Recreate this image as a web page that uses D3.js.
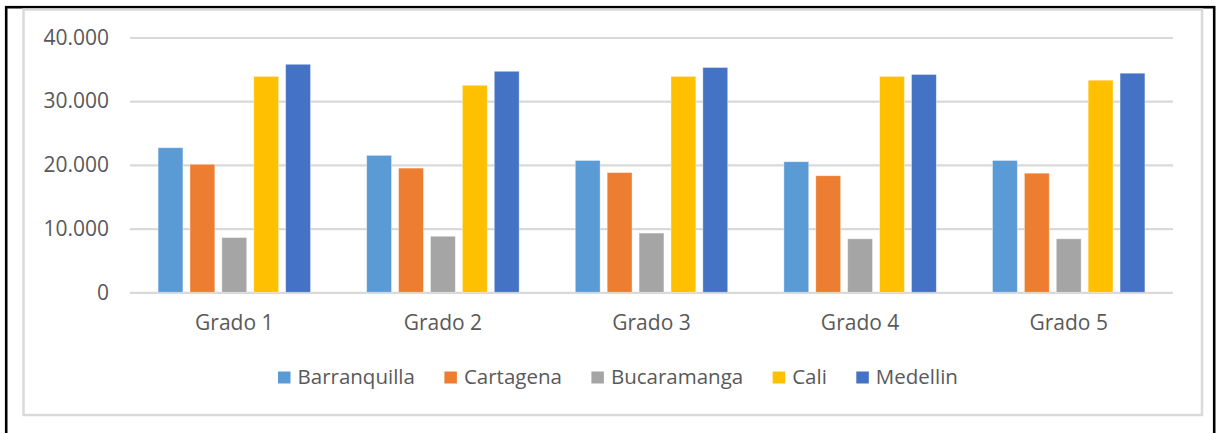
<!DOCTYPE html>
<html>
<head>
<meta charset="utf-8">
<script src="https://cdn.jsdelivr.net/npm/d3@7"></script>
<style>
  body { margin: 0; background: #fff; }
  svg text { font-family: "Open Sans", sans-serif; fill: #595959; }
</style>
</head>
<body>
<div id="chart"></div>
<script>
// data
var grados = ["Grado 1", "Grado 2", "Grado 3", "Grado 4", "Grado 5"];
var ciudades = ["Barranquilla", "Cartagena", "Bucaramanga", "Cali", "Medellin"];
var colores = ["#5B9BD5", "#ED7D31", "#A5A5A5", "#FFC000", "#4472C4"];
var barranquilla = [22700, 21500, 20700, 20500, 20700];
var cartagena = [20100, 19500, 18800, 18300, 18700];
var bucaramanga = [8600, 8800, 9300, 8400, 8400];
var cali = [33900, 32500, 33900, 33900, 33300];
var medellin = [35800, 34700, 35300, 34200, 34400];
var yTicks = [0, 10000, 20000, 30000, 40000];

var series = [barranquilla, cartagena, bucaramanga, cali, medellin];

var width = 1217, height = 433;

var svg = d3.select("#chart").append("svg")
    .attr("width", width)
    .attr("height", height);

// outer black frame (bottom edge falls off the picture)
svg.append("rect")
    .attr("x", 6.2).attr("y", 7.2)
    .attr("width", 1208).attr("height", 440)
    .attr("fill", "none")
    .attr("stroke", "#000")
    .attr("stroke-width", 2.6);

// chart area border
svg.append("rect")
    .attr("x", 23.5).attr("y", 9.5)
    .attr("width", 1178.5).attr("height", 405.5)
    .attr("fill", "#fff")
    .attr("stroke", "#d9d9d9")
    .attr("stroke-width", 2.5);

var x0 = d3.scaleBand()
    .domain(grados)
    .range([130, 1173]);

var x1 = d3.scaleBand()
    .domain(ciudades)
    .range([0, x0.bandwidth()])
    .paddingInner(0.22)
    .paddingOuter(0.88);

var y = d3.scaleLinear()
    .domain([0, 40000])
    .range([292.3, 37.5]);

var fmt = d3.formatLocale({decimal: ",", thousands: ".", grouping: [3], currency: ["$", ""]}).format(",d");

// gridlines + y labels
var yAxis = d3.axisLeft(y)
    .tickValues(yTicks)
    .tickSize(-(1173 - 130))
    .tickPadding(21)
    .tickFormat(fmt);

var gy = svg.append("g")
    .attr("transform", "translate(130,0)")
    .call(yAxis);
gy.select(".domain").remove();
gy.selectAll(".tick line")
    .attr("stroke", "#d9d9d9")
    .attr("stroke-width", 2.2);
gy.selectAll(".tick text")
    .attr("font-size", 21)
    .attr("fill", "#595959")
    .attr("font-family", "Open Sans");

// bars
var groups = svg.append("g").selectAll("g")
    .data(grados)
    .enter().append("g")
    .attr("transform", function(d) { return "translate(" + x0(d) + ",0)"; });

groups.selectAll("rect")
    .data(function(d, gi) {
        return ciudades.map(function(c, si) { return {city: c, value: series[si][gi], i: si}; });
    })
    .enter().append("rect")
    .attr("x", function(d) { return x1(d.city); })
    .attr("width", x1.bandwidth())
    .attr("y", function(d) { return y(d.value); })
    .attr("height", function(d) { return y(0) - y(d.value); })
    .attr("fill", function(d) { return colores[d.i]; })
    .attr("stroke", "#fff")
    .attr("stroke-opacity", 0.5)
    .attr("stroke-width", 0.8);

// category labels
var xAxis = d3.axisBottom(x0).tickSize(0).tickPadding(0);
var gx = svg.append("g")
    .attr("transform", "translate(0,315.5)")
    .call(xAxis);
gx.select(".domain").remove();
gx.selectAll(".tick text")
    .attr("font-size", 21)
    .attr("fill", "#595959")
    .attr("font-family", "Open Sans");

// legend
var legend = svg.append("g");
var lx = 278;
ciudades.forEach(function(c, i) {
    var item = legend.append("g").attr("transform", "translate(" + lx + ",0)");
    item.append("rect")
        .attr("x", 0).attr("y", 371.5)
        .attr("width", 12.5).attr("height", 12)
        .attr("fill", colores[i]);
    var t = item.append("text")
        .attr("x", 19.5).attr("y", 383.5)
        .attr("font-size", 20.5)
        .text(c);
    lx += 19.5 + t.node().getComputedTextLength() + 29.5;
});
</script>
</body>
</html>
